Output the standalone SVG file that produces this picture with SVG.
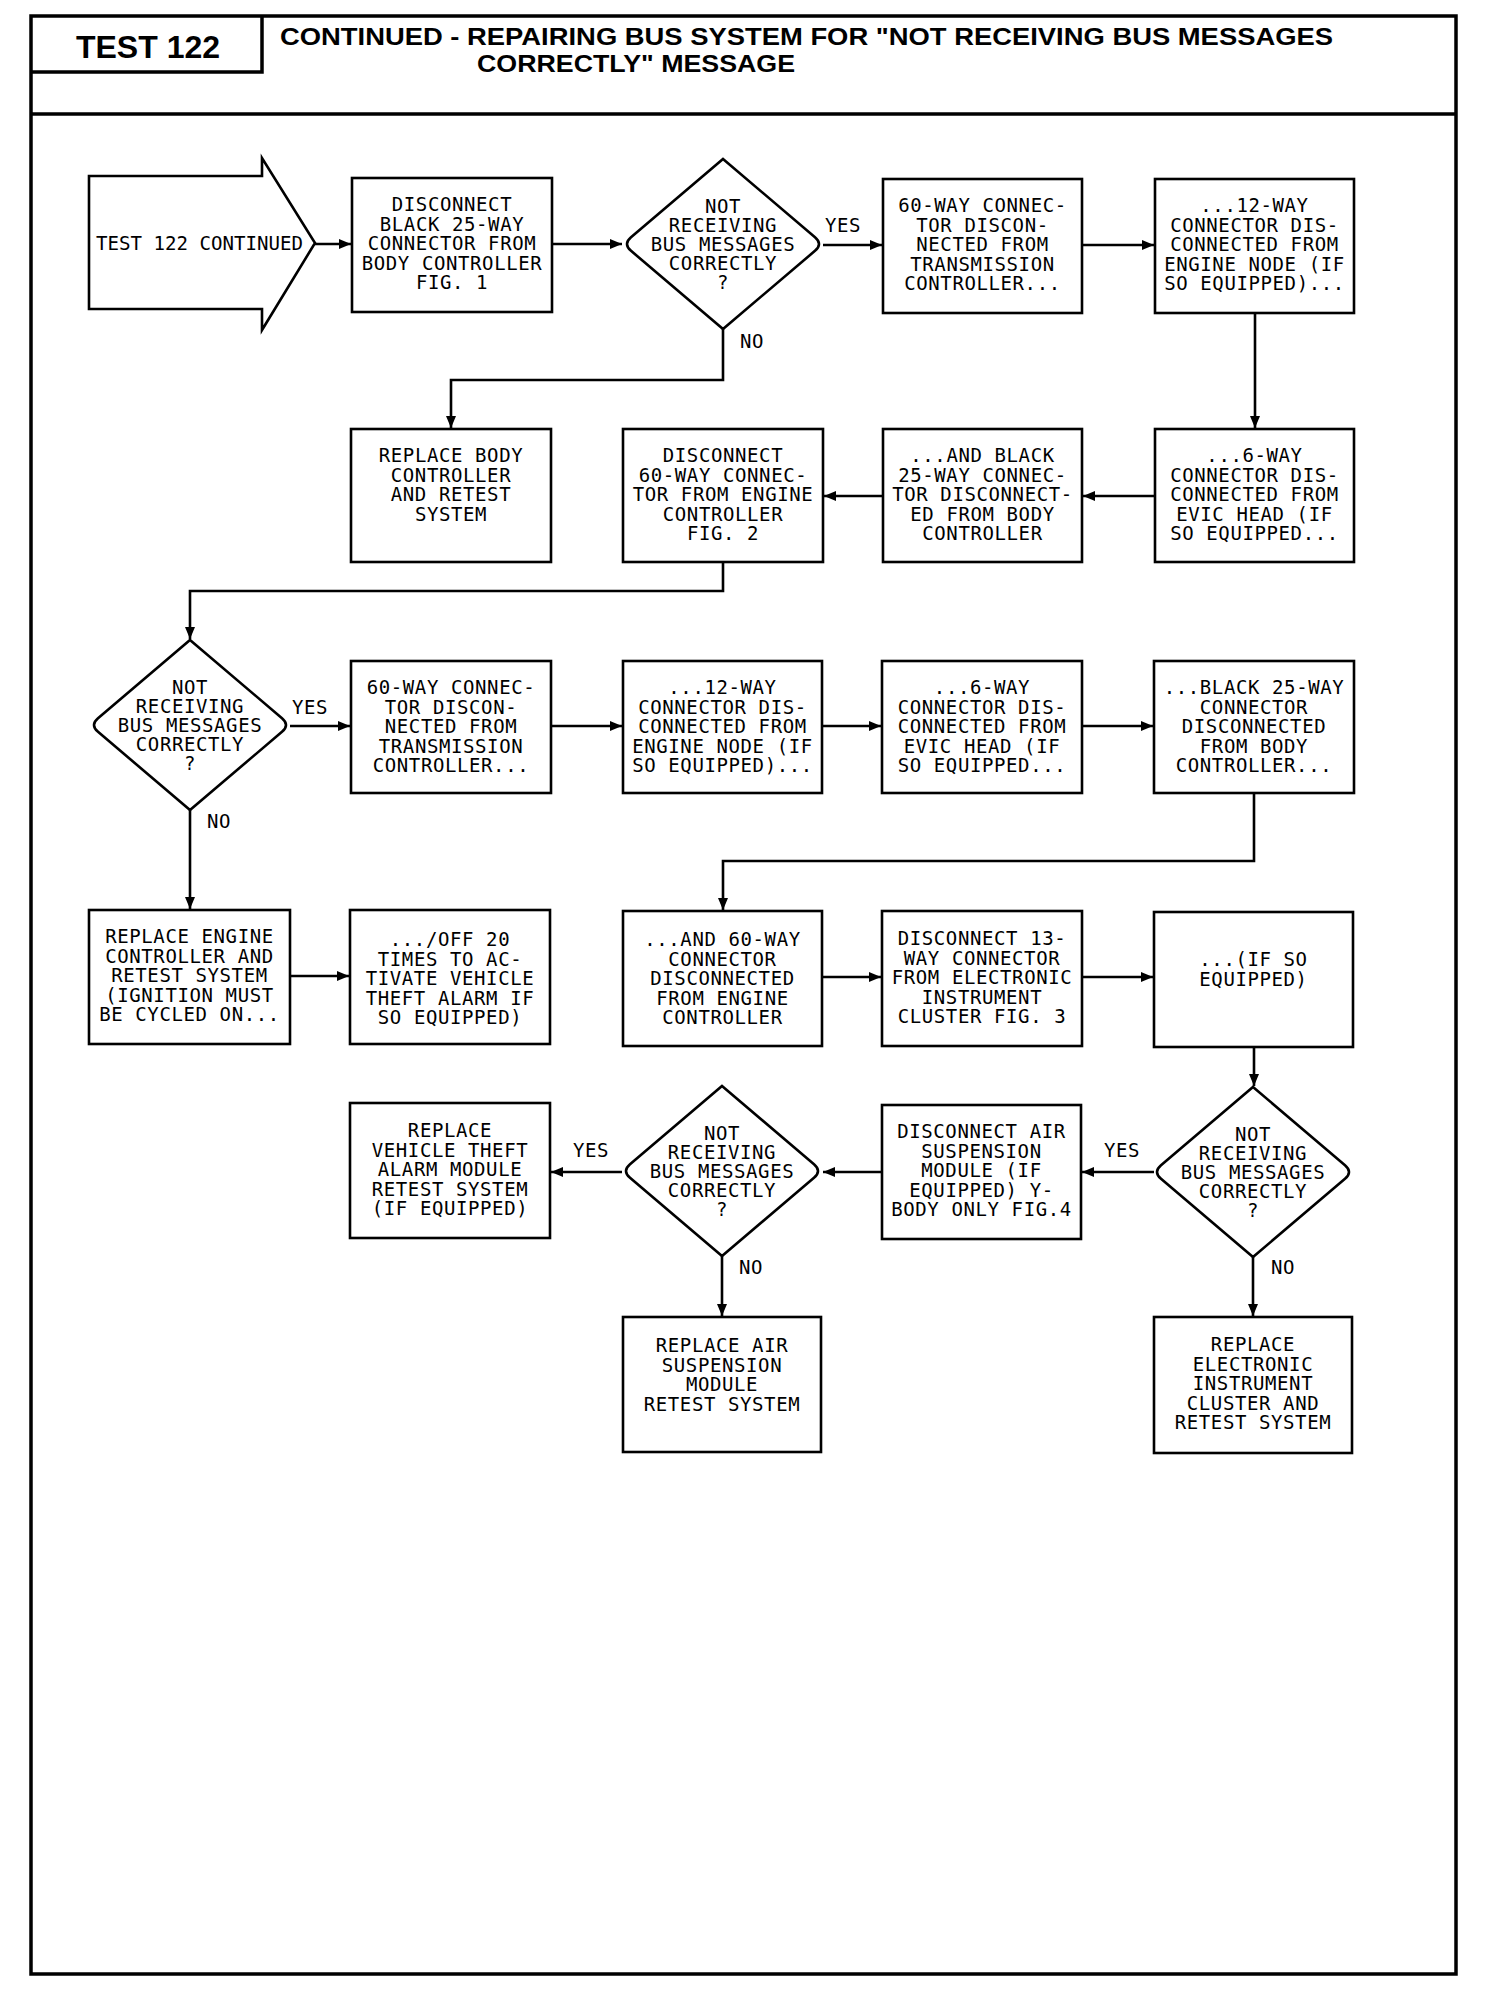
<svg xmlns="http://www.w3.org/2000/svg" width="1504" height="2000" viewBox="0 0 1504 2000">
<style>
.frame{fill:none;stroke:#000;stroke-width:3.5}
.box{fill:#fff;stroke:#000;stroke-width:2.6}
.ln{fill:none;stroke:#000;stroke-width:2.6}
.t{font-family:"DejaVu Sans Mono","Liberation Mono",monospace;font-size:19px;letter-spacing:0.6px;text-anchor:middle;fill:#000}
.lbl{font-family:"DejaVu Sans Mono","Liberation Mono",monospace;font-size:19px;letter-spacing:0.6px;text-anchor:middle;fill:#000}
.hd{font-family:"Liberation Sans",Arial,sans-serif;font-weight:bold;fill:#000}
</style>
<defs>
<marker id="ah" markerUnits="userSpaceOnUse" markerWidth="14" markerHeight="12" refX="12" refY="5" orient="auto">
<path d="M0,0 L12,5 L0,10 z" fill="#000"/>
</marker>
</defs>
<rect width="1504" height="2000" fill="#fff"/>
<g id="frame">
<rect class="frame" x="31" y="16" width="1425" height="1958"/>
<line class="frame" x1="31" y1="114" x2="1456" y2="114" stroke-width="4"/>
<polyline class="frame" points="262,16 262,72 31,72" stroke-width="2.5"/>
<text class="hd" x="148" y="58" font-size="32" text-anchor="middle">TEST 122</text>
<text class="hd" x="280" y="45" font-size="24" textLength="1053" lengthAdjust="spacingAndGlyphs">CONTINUED - REPAIRING BUS SYSTEM FOR "NOT RECEIVING BUS MESSAGES</text>
<text class="hd" x="477" y="72" font-size="24" textLength="318" lengthAdjust="spacingAndGlyphs">CORRECTLY" MESSAGE</text>
</g>

<g id="connectors">
<line class="ln" x1="315" y1="244" x2="351" y2="244" marker-end="url(#ah)"/>
<line class="ln" x1="552" y1="244" x2="622" y2="244" marker-end="url(#ah)"/>
<line class="ln" x1="823" y1="245" x2="882" y2="245" marker-end="url(#ah)"/>
<line class="ln" x1="1082" y1="245" x2="1154" y2="245" marker-end="url(#ah)"/>
<polyline class="ln" points="723,329 723,380 451,380 451,428" marker-end="url(#ah)"/>
<line class="ln" x1="1255" y1="313" x2="1255" y2="428" marker-end="url(#ah)"/>
<line class="ln" x1="1155" y1="496" x2="1083" y2="496" marker-end="url(#ah)"/>
<line class="ln" x1="883" y1="496" x2="824" y2="496" marker-end="url(#ah)"/>
<polyline class="ln" points="723,562 723,591 190,591 190,639" marker-end="url(#ah)"/>
<line class="ln" x1="290" y1="726" x2="350" y2="726" marker-end="url(#ah)"/>
<line class="ln" x1="551" y1="726" x2="622" y2="726" marker-end="url(#ah)"/>
<line class="ln" x1="822" y1="726" x2="881" y2="726" marker-end="url(#ah)"/>
<line class="ln" x1="1082" y1="726" x2="1153" y2="726" marker-end="url(#ah)"/>
<polyline class="ln" points="1254,793 1254,861 723,861 723,910" marker-end="url(#ah)"/>
<line class="ln" x1="190" y1="809" x2="190" y2="909" marker-end="url(#ah)"/>
<line class="ln" x1="290" y1="976" x2="349" y2="976" marker-end="url(#ah)"/>
<line class="ln" x1="822" y1="977" x2="881" y2="977" marker-end="url(#ah)"/>
<line class="ln" x1="1082" y1="977" x2="1153" y2="977" marker-end="url(#ah)"/>
<line class="ln" x1="1254" y1="1047" x2="1254" y2="1086" marker-end="url(#ah)"/>
<line class="ln" x1="1154" y1="1172" x2="1082" y2="1172" marker-end="url(#ah)"/>
<line class="ln" x1="882" y1="1172" x2="823" y2="1172" marker-end="url(#ah)"/>
<line class="ln" x1="622" y1="1172" x2="551" y2="1172" marker-end="url(#ah)"/>
<line class="ln" x1="722" y1="1256" x2="722" y2="1316" marker-end="url(#ah)"/>
<line class="ln" x1="1253" y1="1257" x2="1253" y2="1316" marker-end="url(#ah)"/>
<text class="lbl" x="843" y="232">YES</text>
<text class="lbl" x="752" y="348">NO</text>
<text class="lbl" x="310" y="714">YES</text>
<text class="lbl" x="219" y="828">NO</text>
<text class="lbl" x="591" y="1157">YES</text>
<text class="lbl" x="751" y="1274">NO</text>
<text class="lbl" x="1122" y="1157">YES</text>
<text class="lbl" x="1283" y="1274">NO</text>
</g>

<g id="start">
<polygon class="box" points="89,176 262,176 262,158 315,243 262,330 262,309 89,309"/>
<text class="t" x="96" y="250" textLength="207" lengthAdjust="spacingAndGlyphs" style="text-anchor:start;letter-spacing:0">TEST 122 CONTINUED</text>
</g>

<g id="nA">
<rect class="box" x="352" y="178" width="200" height="134"/>
<text class="t" x="452" y="211">DISCONNECT</text>
<text class="t" x="452" y="230.5">BLACK 25-WAY</text>
<text class="t" x="452" y="250">CONNECTOR FROM</text>
<text class="t" x="452" y="269.5">BODY CONTROLLER</text>
<text class="t" x="452" y="289">FIG. 1</text>
</g>

<g id="nD1">
<path class="box" d="M723,159 L815,237.2 Q823,244 815,250.8 L723,329 L631,250.8 Q623,244 631,237.2 Z"/>
<text class="t" x="723" y="213">NOT</text>
<text class="t" x="723" y="232">RECEIVING</text>
<text class="t" x="723" y="251">BUS MESSAGES</text>
<text class="t" x="723" y="270">CORRECTLY</text>
<text class="t" x="723" y="289">?</text>
</g>

<g id="nB">
<rect class="box" x="883" y="179" width="199" height="134"/>
<text class="t" x="982.5" y="212">60-WAY CONNEC-</text>
<text class="t" x="982.5" y="231.5">TOR DISCON-</text>
<text class="t" x="982.5" y="251">NECTED FROM</text>
<text class="t" x="982.5" y="270.5">TRANSMISSION</text>
<text class="t" x="982.5" y="290">CONTROLLER...</text>
</g>

<g id="nC">
<rect class="box" x="1155" y="179" width="199" height="134"/>
<text class="t" x="1254.5" y="212">...12-WAY</text>
<text class="t" x="1254.5" y="231.5">CONNECTOR DIS-</text>
<text class="t" x="1254.5" y="251">CONNECTED FROM</text>
<text class="t" x="1254.5" y="270.5">ENGINE NODE (IF</text>
<text class="t" x="1254.5" y="290">SO EQUIPPED)...</text>
</g>

<g id="nR1">
<rect class="box" x="351" y="429" width="200" height="133"/>
<text class="t" x="451" y="462">REPLACE BODY</text>
<text class="t" x="451" y="481.5">CONTROLLER</text>
<text class="t" x="451" y="501">AND RETEST</text>
<text class="t" x="451" y="520.5">SYSTEM</text>
</g>

<g id="nE">
<rect class="box" x="623" y="429" width="200" height="133"/>
<text class="t" x="723" y="462">DISCONNECT</text>
<text class="t" x="723" y="481.5">60-WAY CONNEC-</text>
<text class="t" x="723" y="501">TOR FROM ENGINE</text>
<text class="t" x="723" y="520.5">CONTROLLER</text>
<text class="t" x="723" y="540">FIG. 2</text>
</g>

<g id="nF">
<rect class="box" x="883" y="429" width="199" height="133"/>
<text class="t" x="982.5" y="462">...AND BLACK</text>
<text class="t" x="982.5" y="481.5">25-WAY CONNEC-</text>
<text class="t" x="982.5" y="501">TOR DISCONNECT-</text>
<text class="t" x="982.5" y="520.5">ED FROM BODY</text>
<text class="t" x="982.5" y="540">CONTROLLER</text>
</g>

<g id="nG">
<rect class="box" x="1155" y="429" width="199" height="133"/>
<text class="t" x="1254.5" y="462">...6-WAY</text>
<text class="t" x="1254.5" y="481.5">CONNECTOR DIS-</text>
<text class="t" x="1254.5" y="501">CONNECTED FROM</text>
<text class="t" x="1254.5" y="520.5">EVIC HEAD (IF</text>
<text class="t" x="1254.5" y="540">SO EQUIPPED...</text>
</g>

<g id="nD2">
<path class="box" d="M190,640 L282,718.2 Q290,725 282,731.8 L190,810 L98,731.8 Q90,725 98,718.2 Z"/>
<text class="t" x="190" y="694">NOT</text>
<text class="t" x="190" y="713">RECEIVING</text>
<text class="t" x="190" y="732">BUS MESSAGES</text>
<text class="t" x="190" y="751">CORRECTLY</text>
<text class="t" x="190" y="770">?</text>
</g>

<g id="nH">
<rect class="box" x="351" y="661" width="200" height="132"/>
<text class="t" x="451" y="694">60-WAY CONNEC-</text>
<text class="t" x="451" y="713.5">TOR DISCON-</text>
<text class="t" x="451" y="733">NECTED FROM</text>
<text class="t" x="451" y="752.5">TRANSMISSION</text>
<text class="t" x="451" y="772">CONTROLLER...</text>
</g>

<g id="nI">
<rect class="box" x="623" y="661" width="199" height="132"/>
<text class="t" x="722.5" y="694">...12-WAY</text>
<text class="t" x="722.5" y="713.5">CONNECTOR DIS-</text>
<text class="t" x="722.5" y="733">CONNECTED FROM</text>
<text class="t" x="722.5" y="752.5">ENGINE NODE (IF</text>
<text class="t" x="722.5" y="772">SO EQUIPPED)...</text>
</g>

<g id="nJ">
<rect class="box" x="882" y="661" width="200" height="132"/>
<text class="t" x="982" y="694">...6-WAY</text>
<text class="t" x="982" y="713.5">CONNECTOR DIS-</text>
<text class="t" x="982" y="733">CONNECTED FROM</text>
<text class="t" x="982" y="752.5">EVIC HEAD (IF</text>
<text class="t" x="982" y="772">SO EQUIPPED...</text>
</g>

<g id="nK">
<rect class="box" x="1154" y="661" width="200" height="132"/>
<text class="t" x="1254" y="694">...BLACK 25-WAY</text>
<text class="t" x="1254" y="713.5">CONNECTOR</text>
<text class="t" x="1254" y="733">DISCONNECTED</text>
<text class="t" x="1254" y="752.5">FROM BODY</text>
<text class="t" x="1254" y="772">CONTROLLER...</text>
</g>

<g id="nM">
<rect class="box" x="89" y="910" width="201" height="134"/>
<text class="t" x="189.5" y="943">REPLACE ENGINE</text>
<text class="t" x="189.5" y="962.5">CONTROLLER AND</text>
<text class="t" x="189.5" y="982">RETEST SYSTEM</text>
<text class="t" x="189.5" y="1001.5">(IGNITION MUST</text>
<text class="t" x="189.5" y="1021">BE CYCLED ON...</text>
</g>

<g id="nN">
<rect class="box" x="350" y="910" width="200" height="134"/>
<text class="t" x="450" y="946">.../OFF 20</text>
<text class="t" x="450" y="965.5">TIMES TO AC-</text>
<text class="t" x="450" y="985">TIVATE VEHICLE</text>
<text class="t" x="450" y="1004.5">THEFT ALARM IF</text>
<text class="t" x="450" y="1024">SO EQUIPPED)</text>
</g>

<g id="nL">
<rect class="box" x="623" y="911" width="199" height="135"/>
<text class="t" x="722.5" y="946">...AND 60-WAY</text>
<text class="t" x="722.5" y="965.5">CONNECTOR</text>
<text class="t" x="722.5" y="985">DISCONNECTED</text>
<text class="t" x="722.5" y="1004.5">FROM ENGINE</text>
<text class="t" x="722.5" y="1024">CONTROLLER</text>
</g>

<g id="nO">
<rect class="box" x="882" y="911" width="200" height="135"/>
<text class="t" x="982" y="945">DISCONNECT 13-</text>
<text class="t" x="982" y="964.5">WAY CONNECTOR</text>
<text class="t" x="982" y="984">FROM ELECTRONIC</text>
<text class="t" x="982" y="1003.5">INSTRUMENT</text>
<text class="t" x="982" y="1023">CLUSTER FIG. 3</text>
</g>

<g id="nP">
<rect class="box" x="1154" y="912" width="199" height="135"/>
<text class="t" x="1253.5" y="966">...(IF SO</text>
<text class="t" x="1253.5" y="985.5">EQUIPPED)</text>
</g>

<g id="nD4">
<path class="box" d="M1253,1087 L1345,1165.2 Q1353,1172 1345,1178.8 L1253,1257 L1161,1178.8 Q1153,1172 1161,1165.2 Z"/>
<text class="t" x="1253" y="1141">NOT</text>
<text class="t" x="1253" y="1160">RECEIVING</text>
<text class="t" x="1253" y="1179">BUS MESSAGES</text>
<text class="t" x="1253" y="1198">CORRECTLY</text>
<text class="t" x="1253" y="1217">?</text>
</g>

<g id="nQ">
<rect class="box" x="882" y="1105" width="199" height="134"/>
<text class="t" x="981.5" y="1138">DISCONNECT AIR</text>
<text class="t" x="981.5" y="1157.5">SUSPENSION</text>
<text class="t" x="981.5" y="1177">MODULE (IF</text>
<text class="t" x="981.5" y="1196.5">EQUIPPED) Y-</text>
<text class="t" x="981.5" y="1216">BODY ONLY FIG.4</text>
</g>

<g id="nD3">
<path class="box" d="M722,1086 L814,1164.2 Q822,1171 814,1177.8 L722,1256 L630,1177.8 Q622,1171 630,1164.2 Z"/>
<text class="t" x="722" y="1140">NOT</text>
<text class="t" x="722" y="1159">RECEIVING</text>
<text class="t" x="722" y="1178">BUS MESSAGES</text>
<text class="t" x="722" y="1197">CORRECTLY</text>
<text class="t" x="722" y="1216">?</text>
</g>

<g id="nS">
<rect class="box" x="350" y="1103" width="200" height="135"/>
<text class="t" x="450" y="1137">REPLACE</text>
<text class="t" x="450" y="1156.5">VEHICLE THEFT</text>
<text class="t" x="450" y="1176">ALARM MODULE</text>
<text class="t" x="450" y="1195.5">RETEST SYSTEM</text>
<text class="t" x="450" y="1215">(IF EQUIPPED)</text>
</g>

<g id="nT">
<rect class="box" x="623" y="1317" width="198" height="135"/>
<text class="t" x="722" y="1352">REPLACE AIR</text>
<text class="t" x="722" y="1371.5">SUSPENSION</text>
<text class="t" x="722" y="1391">MODULE</text>
<text class="t" x="722" y="1410.5">RETEST SYSTEM</text>
</g>

<g id="nU">
<rect class="box" x="1154" y="1317" width="198" height="136"/>
<text class="t" x="1253" y="1351">REPLACE</text>
<text class="t" x="1253" y="1370.5">ELECTRONIC</text>
<text class="t" x="1253" y="1390">INSTRUMENT</text>
<text class="t" x="1253" y="1409.5">CLUSTER AND</text>
<text class="t" x="1253" y="1429">RETEST SYSTEM</text>
</g>
</svg>
